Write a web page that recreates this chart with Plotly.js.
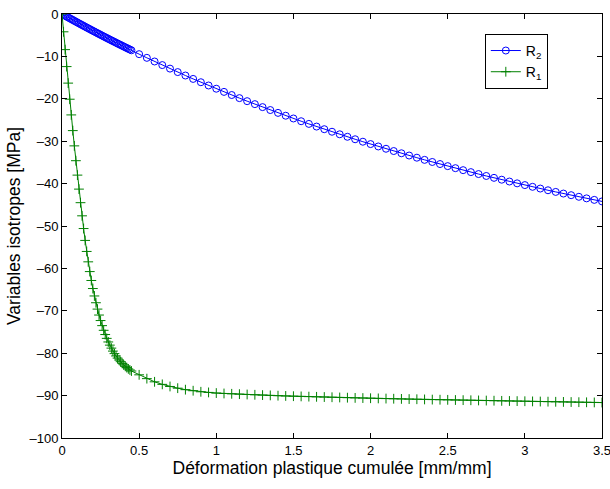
<!DOCTYPE html>
<html>
<head>
<meta charset="utf-8">
<script src="https://cdn.plot.ly/plotly-3.0.1.min.js"></script>
<style>html,body{margin:0;padding:0;background:#fff;}#chart{width:610px;height:489px;}</style>
</head>
<body>
<div id="chart"></div>
<script>
// Cumulated plastic strain (dense then coarse sampling)
const strainFine = [0,0.01,0.02,0.03,0.04,0.05,0.06,0.07,0.08,0.09,0.10,0.11,0.12,0.13,0.14,0.15,0.16,0.17,0.18,0.19,0.20,0.21,0.22,0.23,0.24,0.25,0.26,0.27,0.28,0.29,0.30,0.31,0.32,0.33,0.34,0.35,0.36,0.37,0.38,0.39,0.40,0.41,0.42,0.43,0.44,0.45];
const strainCoarse = [0.5,0.55,0.6,0.65,0.7,0.75,0.8,0.85,0.9,0.95,1.0,1.05,1.1,1.15,1.2,1.25,1.3,1.35,1.4,1.45,1.5,1.55,1.6,1.65,1.7,1.75,1.8,1.85,1.9,1.95,2.0,2.05,2.1,2.15,2.2,2.25,2.3,2.35,2.4,2.45,2.5,2.55,2.6,2.65,2.7,2.75,2.8,2.85,2.9,2.95,3.0,3.05,3.1,3.15,3.2,3.25,3.3,3.35,3.4,3.45,3.5];

// R2 (blue, circles)
const r2Fine = [0,-0.20,-0.41,-0.61,-0.81,-1.01,-1.21,-1.41,-1.61,-1.81,-2.01,-2.21,-2.40,-2.60,-2.80,-2.99,-3.19,-3.38,-3.57,-3.77,-3.96,-4.15,-4.34,-4.53,-4.72,-4.91,-5.10,-5.29,-5.47,-5.66,-5.85,-6.03,-6.22,-6.40,-6.58,-6.77,-6.95,-7.13,-7.31,-7.49,-7.67,-7.85,-8.03,-8.21,-8.38,-8.56];
const r2Coarse = [-9.47,-10.34,-11.20,-12.05,-12.88,-13.70,-14.51,-15.31,-16.09,-16.86,-17.62,-18.37,-19.11,-19.84,-20.56,-21.26,-21.96,-22.65,-23.32,-23.99,-24.64,-25.29,-25.92,-26.55,-27.17,-27.77,-28.37,-28.96,-29.54,-30.12,-30.68,-31.24,-31.78,-32.32,-32.85,-33.38,-33.89,-34.40,-34.90,-35.39,-35.88,-36.36,-36.83,-37.29,-37.75,-38.20,-38.64,-39.08,-39.51,-39.94,-40.35,-40.76,-41.17,-41.57,-41.96,-42.35,-42.73,-43.11,-43.48,-43.84,-44.20];

// R1 (green, crosses)
const r1Fine = [0,-4.2,-8.4,-12.4,-16.3,-20.1,-23.8,-27.5,-31.1,-34.6,-38.0,-41.3,-44.5,-47.6,-50.6,-53.4,-56.0,-58.45,-60.75,-62.85,-64.75,-66.5,-68.1,-69.6,-71.0,-72.3,-73.5,-74.6,-75.6,-76.5,-77.35,-78.1,-78.8,-79.5,-80.1,-80.65,-81.15,-81.6,-82.0,-82.4,-82.75,-83.1,-83.4,-83.7,-83.95,-84.2];
const r1Coarse = [-85.1,-86.0,-86.75,-87.35,-87.85,-88.25,-88.6,-88.85,-89.1,-89.25,-89.4,-89.5,-89.58,-89.66,-89.74,-89.81,-89.88,-89.95,-90.02,-90.08,-90.14,-90.19,-90.24,-90.29,-90.34,-90.39,-90.44,-90.49,-90.54,-90.58,-90.62,-90.66,-90.7,-90.74,-90.78,-90.82,-90.86,-90.9,-90.94,-90.97,-91.0,-91.04,-91.07,-91.1,-91.14,-91.17,-91.2,-91.24,-91.27,-91.3,-91.33,-91.37,-91.4,-91.43,-91.46,-91.49,-91.52,-91.55,-91.58,-91.61,-91.64];

const xTicks = [0,0.5,1,1.5,2,2.5,3,3.5];
const xTickLabels = ['0','0.5','1','1.5','2','2.5','3','3.5'];
const yTicks = [-100,-90,-80,-70,-60,-50,-40,-30,-20,-10,0];
const yTickLabels = ['\u2013100','\u201390','\u201380','\u201370','\u201360','\u201350','\u201340','\u201330','\u201320','\u201310','0'];

const strain = strainFine.concat(strainCoarse);
const r2 = r2Fine.concat(r2Coarse);
const r1 = r1Fine.concat(r1Coarse);

const font = 'Liberation Sans, Arial, Helvetica, sans-serif';

const traces = [
  {x: strain, y: r2, type: 'scatter', mode: 'lines+markers', name: 'R<sub>2</sub>',
   line: {color: 'rgb(0,0,255)', width: 1},
   marker: {symbol: 'circle-open', size: 7, color: 'rgb(0,0,255)', line: {width: 1, color: 'rgb(0,0,255)'}}},
  {x: strain, y: r1, type: 'scatter', mode: 'lines+markers', name: 'R<sub>1</sub>',
   line: {color: 'rgb(0,128,0)', width: 1},
   marker: {symbol: 'cross-thin-open', size: 7, color: 'rgb(0,128,0)', line: {width: 1, color: 'rgb(0,128,0)'}}}
];

const axisCommon = {showgrid: false, zeroline: false, showline: true, linecolor: '#000', linewidth: 1,
  mirror: 'ticks', ticks: 'inside', ticklen: 5, tickcolor: '#000', tickwidth: 1,
  ticklabeloverflow: 'allow', automargin: false,
  tickfont: {family: font, size: 13, color: '#000'}};

const layout = {
  width: 610, height: 489,
  margin: {l: 62, r: 8, t: 14, b: 51},
  paper_bgcolor: '#fff', plot_bgcolor: '#fff',
  font: {family: font, color: '#000'},
  showlegend: true,
  legend: {x: 0.783, y: 0.953, xanchor: 'left', yanchor: 'top', bordercolor: '#000', borderwidth: 1,
    bgcolor: '#fff', font: {family: font, size: 14, color: '#000'}, traceorder: 'normal', tracegroupgap: 0,
    itemwidth: 30},
  xaxis: Object.assign({}, axisCommon, {range: [0, 3.5], tickmode: 'array', tickvals: xTicks, ticktext: xTickLabels,
    title: {text: 'Déformation plastique cumulée [mm/mm]', font: {family: font, size: 17.5, color: '#000'}, standoff: 4}}),
  yaxis: Object.assign({}, axisCommon, {range: [-100, 0], tickmode: 'array', tickvals: yTicks, ticktext: yTickLabels,
    title: {text: 'Variables isotropes [MPa]', font: {family: font, size: 17.5, color: '#000'}, standoff: 4}})
};

Plotly.newPlot('chart', traces, layout, {displayModeBar: false, staticPlot: true});
</script>
</body>
</html>
